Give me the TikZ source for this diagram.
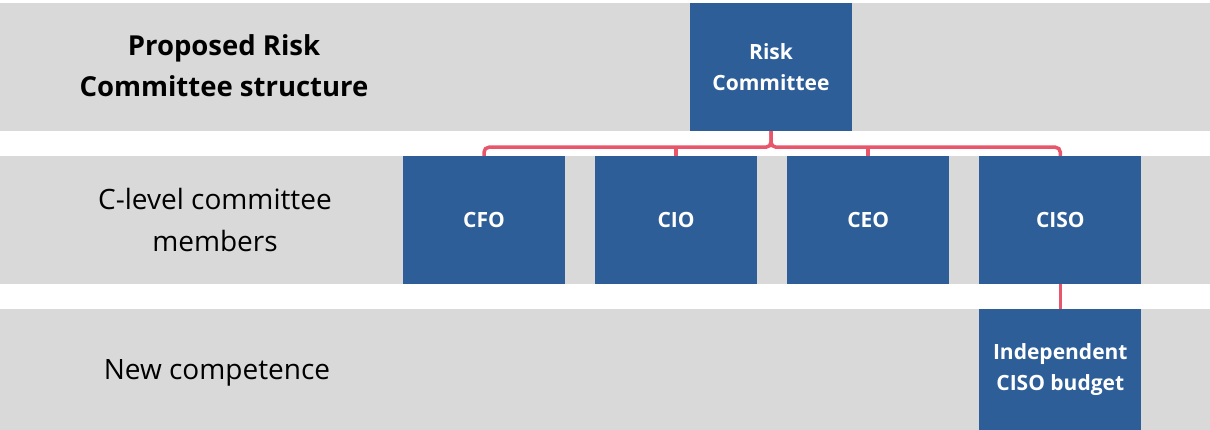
\documentclass[tikz,border=0pt]{standalone}
\usepackage{fontspec}
\setmainfont{Open Sans}
\usetikzlibrary{positioning}
\definecolor{bandgray}{HTML}{D9D9D9}
\definecolor{boxblue}{HTML}{2D5E98}
\definecolor{linkred}{HTML}{E8566B}

\begin{document}
\begin{tikzpicture}[x=1pt,y=1pt]
\tikzstyle{band} = [fill=bandgray]
\tikzstyle{box} = [fill=boxblue,text=white,font=\fontsize{21}{31}\selectfont\bfseries,align=center,minimum width=162pt,minimum height=128pt,inner sep=0pt,node distance=29.7pt]
\tikzstyle{rowlabel} = [font=\fontsize{28}{42}\selectfont,align=center]
\tikzstyle{link} = [draw=linkred,line width=3.5pt,rounded corners=5pt]

\useasboundingbox (0,0) rectangle (1210,430);

% grey bands behind each level
\fill[band] (0,299) rectangle (1210,427);
\fill[band] (0,146) rectangle (1210,274);
\fill[band] (0,0) rectangle (1210,121);

\node[rowlabel,font=\fontsize{27.5}{41}\selectfont\bfseries] (title) at (224,364) {Proposed Risk\\Committee structure};
\node[rowlabel] (clevel) at (215,210) {C-level committee\\members};
\node[rowlabel] (newcomp) at (217,57) {New competence};

\node[box] (rc) at (771,363) {Risk\\Committee};
\node[box] (cfo) at (484,210) {CFO};
\node[box,right=of cfo] (cio) {CIO};
\node[box,right=of cio] (ceo) {CEO};
\node[box,right=of ceo] (ciso) {CISO};
\node[box,minimum height=121pt,anchor=north] (budget) at (ciso.south |- 0,121) {Independent\\CISO budget};

\coordinate (hub) at ([yshift=-16pt]rc.south);

\draw[link] (cfo.north) |- (hub) -- (rc.south);
\draw[link] (ciso.north) |- (hub) -- (rc.south);
\draw[link] (cio.north) -- (cio.north |- hub);
\draw[link] (ceo.north) -- (ceo.north |- hub);
\draw[link] (ciso.south) -- (budget.north);
\end{tikzpicture}
\end{document}
